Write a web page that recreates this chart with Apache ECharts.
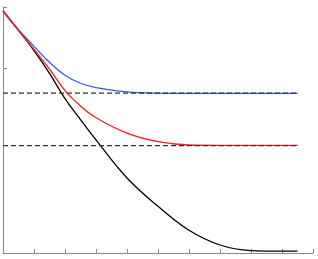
<!DOCTYPE html>
<html><head><meta charset="utf-8">
<script src="https://cdn.jsdelivr.net/npm/echarts@6/dist/echarts.min.js"></script>
<style>html,body{margin:0;padding:0;background:#fff}#c{width:318px;height:259px}</style>
</head><body><div id="c"></div>
<script>
var xs = [0, 0.5, 1, 1.5, 2, 2.5, 3, 4, 5, 6, 7, 8, 9, 9.5];
var black = [3.935, 3.62, 3.29, 2.92, 2.51, 2.17, 1.84, 1.22, 0.76, 0.37, 0.13, 0.04, 0.03, 0.03];
var blue  = [3.935, 3.63, 3.36, 3.10, 2.89, 2.76, 2.69, 2.62, 2.60, 2.597, 2.597, 2.597, 2.597, 2.597];
var red   = [3.935, 3.62, 3.31, 2.99, 2.64, 2.39, 2.20, 1.95, 1.81, 1.756, 1.75, 1.75, 1.75, 1.75];
var blueLimit = 2.6;
var redLimit = 1.745;
var xTicks = [1,2,3,4,5,6,7,8,9,10];
var yTicks = [3, 4];

function pts(ys){ return xs.map(function(x,i){ return [x, ys[i]]; }); }
var xEnd = xs[xs.length-1];
var axisCol = '#8a8a8a';
var chart = echarts.init(document.getElementById('c'));
chart.setOption({
  animation: false,
  grid: {left: 3, right: 5, top: 7, bottom: 6, containLabel: false},
  xAxis: {type: 'value', min: 0, max: 10, interval: 1,
    axisLine: {show: true, onZero: false, lineStyle: {color: axisCol, width: 1}},
    axisTick: {show: true, inside: true, length: 4, lineStyle: {color: axisCol}, customValues: xTicks},
    axisLabel: {show: false}, splitLine: {show: false}},
  yAxis: {type: 'value', min: 0, max: 4, interval: 1,
    axisLine: {show: true, onZero: false, lineStyle: {color: axisCol, width: 1}},
    axisTick: {show: true, inside: true, length: 4, lineStyle: {color: axisCol}, customValues: yTicks},
    axisLabel: {show: false}, splitLine: {show: false}},
  series: [
    {type: 'line', data: pts(black), symbol: 'none', smooth: 0.4, lineStyle: {color: '#000', width: 1.3}},
    {type: 'line', data: pts(blue), symbol: 'none', smooth: 0.4, lineStyle: {color: '#3355ff', width: 1.3}},
    {type: 'line', data: pts(red), symbol: 'none', smooth: 0.4, lineStyle: {color: '#ff1a1a', width: 1.3}},
    {type: 'line', data: [[0, blueLimit], [xEnd, blueLimit]], symbol: 'none', lineStyle: {color: '#333', width: 1.3, type: [5, 3]}},
    {type: 'line', data: [[0, redLimit], [xEnd, redLimit]], symbol: 'none', lineStyle: {color: '#333', width: 1.3, type: [5, 3]}}
  ]
});
</script></body></html>
